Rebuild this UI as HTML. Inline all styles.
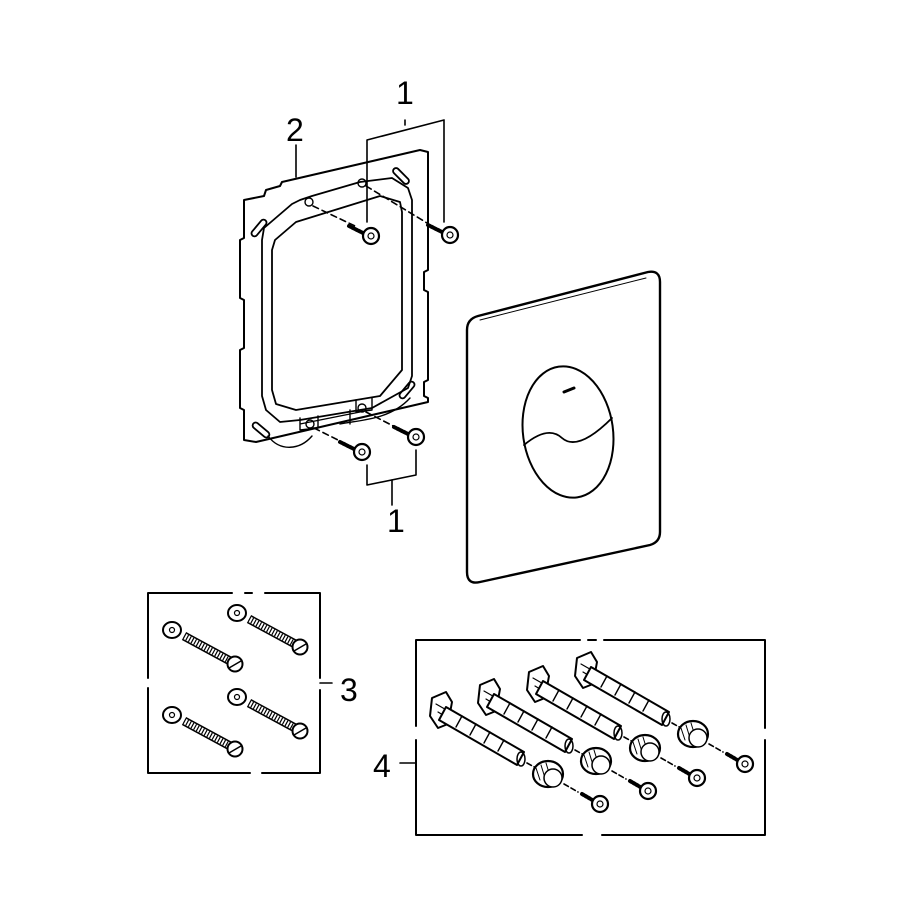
<!DOCTYPE html>
<html><head><meta charset="utf-8"><style>
html,body{margin:0;padding:0;background:#fff}
svg{display:block}
text{font-family:"Liberation Sans",sans-serif;font-size:32px;fill:#000;stroke:none}
</style></head><body>
<svg width="912" height="912" viewBox="0 0 912 912" xmlns="http://www.w3.org/2000/svg" fill="none" stroke="#000" stroke-width="1.6" stroke-linejoin="round" stroke-linecap="round">
<defs>
  <g id="scr">
    <line x1="-22" y1="-10" x2="-6" y2="-2" stroke-width="4" stroke-dasharray="2 1.5"/>
    <circle cx="0" cy="0" r="8" fill="#fff" stroke-width="2.2"/>
    <circle cx="0" cy="0" r="3" stroke-width="1.2"/>
  </g>
  <g id="ws">
    <ellipse cx="0" cy="0" rx="9" ry="8" stroke-width="2"/>
    <circle cx="0" cy="0" r="2.5" stroke-width="1.2"/>
    <line x1="12" y1="6" x2="60" y2="32" stroke-width="9" stroke-linecap="butt"/>
    <line x1="12" y1="6" x2="60" y2="32" stroke-width="6" stroke="#fff" stroke-linecap="butt"/>
    <line x1="12" y1="6" x2="60" y2="32" stroke-width="6" stroke-dasharray="1.2 1.8" stroke-linecap="butt"/>
    <circle cx="63" cy="34" r="7.5" fill="#fff" stroke-width="2"/>
    <line x1="57" y1="38" x2="69" y2="31" stroke-width="1.5"/>
  </g>
  <g id="anc">
    <path d="M-8,-10 L6,-16 L12,-6 L8,16 L-2,20 L-10,8 Z" fill="#fff" stroke-width="2"/>
    <path d="M-4,-4 L10,4 M-2,4 L8,10" stroke-width="1.2"/>
    <path d="M6,-1 L84,44 L77,57 L-1,12 Z" fill="#fff" stroke-width="2"/>
    <path d="M22,8 l-6,11 M36,16 l-6,11 M50,24 l-6,11 M64,32 l-6,11" stroke-width="1.4"/>
    <ellipse cx="81" cy="51" rx="4" ry="7" stroke-width="1.5"/>
    <line x1="87" y1="55" x2="98" y2="61" stroke-dasharray="5 3"/>
    <ellipse cx="108" cy="66" rx="15" ry="13" fill="#fff" stroke-width="2.2"/>
    <path d="M96,60 l4,12 M101,57 l4,13 M106,55 l4,13" stroke-width="1"/>
    <ellipse cx="113" cy="70" rx="9" ry="9" fill="#fff" stroke-width="1.5"/>
    <line x1="124" y1="76" x2="138" y2="84" stroke-dasharray="5 3"/>
    <line x1="142" y1="86" x2="154" y2="93" stroke-width="4" stroke-dasharray="2 1.5"/>
    <circle cx="160" cy="96" r="8" fill="#fff" stroke-width="2.2"/>
    <circle cx="160" cy="96" r="3" stroke-width="1.2"/>
  </g>
</defs>

<!-- labels -->
<text x="396" y="104">1</text>
<text x="286" y="141">2</text>
<text x="387" y="532">1</text>
<text x="340" y="701">3</text>
<text x="373" y="777">4</text>

<!-- leader lines -->
<polyline points="296,145 296,177"/>
<polyline points="367,222 367,140 444,120 444,222"/>
<polyline points="405,120 405,125"/>
<polyline points="367,465 367,485 416,475 416,450"/>
<polyline points="392,480 392,505"/>
<line x1="320" y1="683" x2="332" y2="683"/>
<line x1="400" y1="763" x2="416" y2="763"/>

<!-- frame -->
<path d="M244,200 L264,196 L266,190 L280,186 L282,182 L420,150 L428,152 L428,270 L424,272 L424,290 L428,292 L428,380 L424,382 L424,396 L428,398 L428,402 L256,442 L244,440 L244,410 L240,408 L240,350 L244,348 L244,300 L240,298 L240,240 L244,238 Z" stroke-width="2"/>
<path d="M264,228 L292,204 L300,200 L312,196 L360,182 L392,178 L408,188 L412,200 L412,376 L408,388 L372,408 L300,420 L280,422 L266,410 L262,396 L262,240 Z" stroke-width="1.8"/>
<path d="M275,240 L296,222 L380,196 L400,202 L402,212 L402,370 L380,396 L296,410 L276,404 L272,390 L272,250 Z" stroke-width="1.8"/>
<rect x="256" y="218" width="6" height="20" rx="3" transform="rotate(40 259 228)" stroke-width="1.8"/>
<rect x="398" y="166" width="6" height="20" rx="3" transform="rotate(-45 401 176)" stroke-width="1.8"/>
<rect x="258" y="420" width="6" height="20" rx="3" transform="rotate(-50 261 430)" stroke-width="1.8"/>
<rect x="404" y="380" width="6" height="20" rx="3" transform="rotate(40 407 390)" stroke-width="1.8"/>
<path d="M300,418 L300,430 L318,428 L318,416 M350,410 L350,424 M300,424 L360,412 M356,400 L356,412 L372,410 L372,398" stroke-width="1.4"/>
<path d="M268,436 C280,452 300,450 312,436 M340,424 C360,420 390,420 410,398" stroke-width="1.4"/>
<circle cx="309" cy="202" r="4" stroke-width="1.4"/>
<circle cx="362" cy="183" r="4" stroke-width="1.4"/>
<circle cx="310" cy="424" r="4" stroke-width="1.4"/>
<circle cx="362" cy="408" r="4" stroke-width="1.4"/>
<line x1="313" y1="206" x2="355" y2="226" stroke-dasharray="6 4"/>
<line x1="366" y1="186" x2="432" y2="226" stroke-dasharray="6 4"/>
<line x1="314" y1="428" x2="350" y2="446" stroke-dasharray="6 4"/>
<line x1="366" y1="412" x2="405" y2="432" stroke-dasharray="6 4"/>
<use href="#scr" x="371" y="236"/>
<use href="#scr" x="450" y="235"/>
<use href="#scr" x="362" y="452"/>
<use href="#scr" x="416" y="437"/>

<!-- plate -->
<path d="M478,316 L648,272 Q660,270 660,282 L660,532 Q660,542 650,545 L480,582 Q467,585 467,572 L467,330 Q467,319 478,316 Z" stroke-width="2.4"/>
<path d="M480,320 L646,278" stroke-width="1"/>
<ellipse cx="568" cy="432" rx="45" ry="66" transform="rotate(-8 568 432)" stroke-width="2"/>
<path d="M524,445 Q548,425 562,438 Q578,452 612,418" stroke-width="1.8"/>
<path d="M564,392 l10,-4" stroke-width="3"/>

<!-- box 3 -->
<path d="M232,593 L148,593 L148,678 M148,688 L148,773 L250,773 M262,773 L320,773 L320,690 M320,678 L320,593 L265,593 M245,593 L252,593" stroke-width="2"/>
<use href="#ws" x="172" y="630"/>
<use href="#ws" x="237" y="613"/>
<use href="#ws" x="172" y="715"/>
<use href="#ws" x="237" y="697"/>

<!-- box 4 -->
<path d="M580,640 L416,640 L416,726 M416,740 L416,835 L582,835 M602,835 L765,835 L765,740 M765,728 L765,640 L604,640 M588,640 L596,640" stroke-width="2"/>
<use href="#anc" x="440" y="708"/>
<use href="#anc" x="488" y="695"/>
<use href="#anc" x="537" y="682"/>
<use href="#anc" x="585" y="668"/>
</svg>
</body></html>
